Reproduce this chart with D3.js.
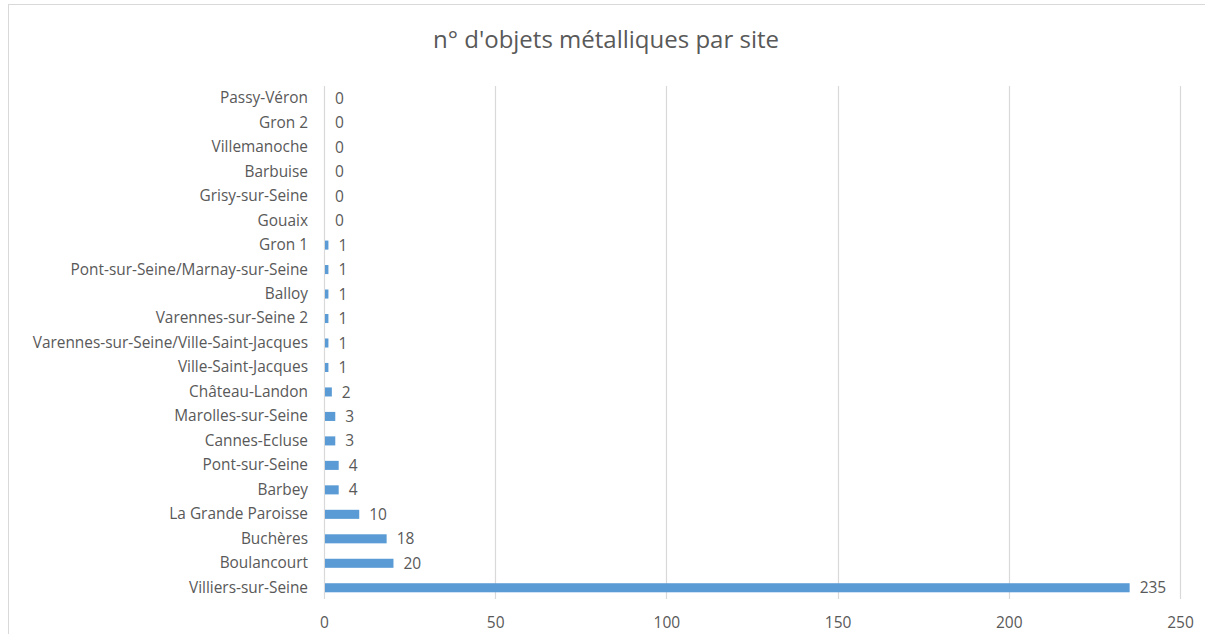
<!DOCTYPE html>
<html>
<head>
<meta charset="utf-8">
<script src="https://cdn.jsdelivr.net/npm/d3@7"></script>
<style>
  html, body { margin: 0; padding: 0; background: #ffffff; }
  svg { display: block; }
  text { font-family: "Open Sans", "Noto Sans", sans-serif; fill: #595959; }
</style>
</head>
<body>
<svg id="chart" width="1205" height="634"></svg>
<script>
// Sites, top to bottom
const sites = [
  "Passy-Véron", "Gron 2", "Villemanoche", "Barbuise", "Grisy-sur-Seine",
  "Gouaix", "Gron 1", "Pont-sur-Seine/Marnay-sur-Seine", "Balloy",
  "Varennes-sur-Seine 2", "Varennes-sur-Seine/Ville-Saint-Jacques",
  "Ville-Saint-Jacques", "Château-Landon", "Marolles-sur-Seine",
  "Cannes-Ecluse", "Pont-sur-Seine", "Barbey", "La Grande Paroisse",
  "Buchères", "Boulancourt", "Villiers-sur-Seine"
];
// Number of metal objects per site
const counts = [0, 0, 0, 0, 0, 0, 1, 1, 1, 1, 1, 1, 2, 3, 3, 4, 4, 10, 18, 20, 235];
const xTicks = [0, 50, 100, 150, 200, 250];
const title = "n° d'objets métalliques par site";

const svg = d3.select("#chart");
const W = 1205, H = 634;

// Outer chart frame
svg.append("rect")
  .attr("x", 8.5).attr("y", 4.5)
  .attr("width", W - 8).attr("height", H)
  .attr("fill", "#ffffff").attr("stroke", "#d9d9d9").attr("stroke-width", 1);

const plot = { left: 324, right: 1180, top: 86, bottom: 600 };

const x = d3.scaleLinear().domain([0, 250]).range([plot.left, plot.right]);
const y = d3.scaleBand().domain(sites).range([plot.top, plot.bottom]).paddingInner(0.63).paddingOuter(0.315);

// Title
svg.append("text")
  .attr("x", 606).attr("y", 48)
  .attr("text-anchor", "middle")
  .style("font-size", "24px")
  .text(title);

// Vertical gridlines (including the zero line)
svg.append("g")
  .selectAll("line")
  .data(xTicks)
  .join("line")
  .attr("x1", d => Math.round(x(d)) + 0.5).attr("x2", d => Math.round(x(d)) + 0.5)
  .attr("y1", plot.top).attr("y2", plot.bottom - 1)
  .attr("stroke", "#d9d9d9").attr("stroke-width", 1.2);

// X axis tick labels
const xAxis = d3.axisBottom(x).tickValues(xTicks).tickSize(0).tickPadding(0);
const gx = svg.append("g")
  .attr("transform", `translate(0, ${plot.bottom + 28})`)
  .call(xAxis);
gx.select(".domain").remove();
gx.selectAll("text")
  .attr("dy", "0")
  .style("font-size", "15.5px")
  .style("font-family", "'Open Sans', sans-serif")
  .attr("fill", "#595959");

// Y axis category labels
const yAxis = d3.axisLeft(y).tickSize(0).tickPadding(0);
const gy = svg.append("g")
  .attr("transform", `translate(${plot.left - 16}, 0)`)
  .call(yAxis);
gy.select(".domain").remove();
gy.selectAll("text")
  .style("font-size", "15.4px")
  .style("font-family", "'Open Sans', sans-serif")
  .attr("fill", "#595959");

// Bars
const rows = sites.map((s, i) => ({ site: s, value: counts[i] }));
svg.append("g")
  .selectAll("rect")
  .data(rows)
  .join("rect")
  .attr("x", x(0) + 1)
  .attr("y", d => y(d.site))
  .attr("width", d => Math.max(0, x(d.value) - x(0)))
  .attr("height", y.bandwidth())
  .attr("fill", "#5b9bd5");

// Value labels
svg.append("g")
  .selectAll("text")
  .data(rows)
  .join("text")
  .attr("x", d => x(d.value) + 11)
  .attr("y", d => y(d.site) + y.bandwidth() / 2)
  .attr("dy", "0.36em")
  .style("font-size", "15.5px")
  .text(d => d.value);
</script>
</body>
</html>
